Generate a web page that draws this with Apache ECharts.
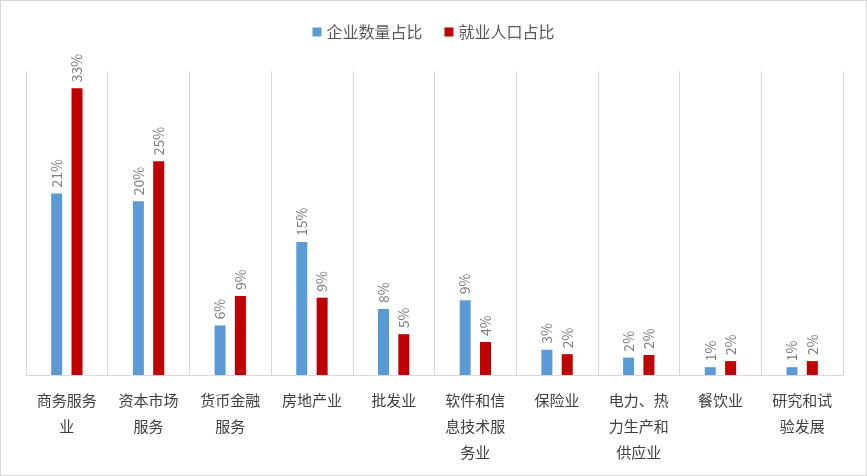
<!DOCTYPE html>
<html><head><meta charset="utf-8">
<script src="https://cdn.jsdelivr.net/npm/echarts@6/dist/echarts.min.js"></script>
<style>html,body{margin:0;padding:0;background:#fff}#main{width:865px;height:474px;border:1px solid #d9d9d9}</style>
</head><body><div id="main"></div>
<script>
var categories = ['商务服务\n业', '资本市场\n服务', '货币金融\n服务', '房地产业', '批发业', '软件和信\n息技术服\n务业', '保险业', '电力、热\n力生产和\n供应业', '餐饮业', '研究和试\n验发展'];
var enterpriseShare = [20.9, 20.0, 5.7, 15.3, 7.6, 8.6, 2.9, 2.0, 0.9, 0.9];
var employmentShare = [33.0, 24.6, 9.1, 8.9, 4.7, 3.8, 2.4, 2.3, 1.6, 1.6];

var chart = echarts.init(document.getElementById('main'));
var label = {
    show: true, position: 'top', rotate: 90, align: 'left', verticalAlign: 'middle',
    distance: 6, color: '#7f7f7f', fontSize: 14, fontFamily: 'Noto Sans CJK SC',
    formatter: function (p) { return Math.round(p.value) + '%'; }
};
chart.setOption({
    animation: false,
    legend: {
        top: 18, left: 'center', itemWidth: 9, itemHeight: 9, itemGap: 22,
        icon: 'rect',
        textStyle: { fontSize: 16, color: '#595959', fontFamily: 'Noto Sans CJK SC' }
    },
    grid: { left: 25, right: 23, top: 70, bottom: 100 },
    xAxis: {
        type: 'category', data: categories,
        axisTick: { show: false },
        axisLine: { lineStyle: { color: '#d9d9d9' } },
        splitLine: { show: true, lineStyle: { color: '#d9d9d9' } },
        axisLabel: { color: '#404040', fontSize: 15, lineHeight: 26, margin: 12, interval: 0, fontFamily: 'Noto Sans CJK SC' }
    },
    yAxis: { type: 'value', min: 0, max: 35, show: false, splitLine: { show: false } },
    series: [
        { name: '企业数量占比', type: 'bar', data: enterpriseShare, barWidth: 11, barGap: '85%', itemStyle: { color: '#5b9bd5' }, label: label },
        { name: '就业人口占比', type: 'bar', data: employmentShare, barWidth: 11, itemStyle: { color: '#c00000' }, label: label }
    ]
});
</script></body></html>
